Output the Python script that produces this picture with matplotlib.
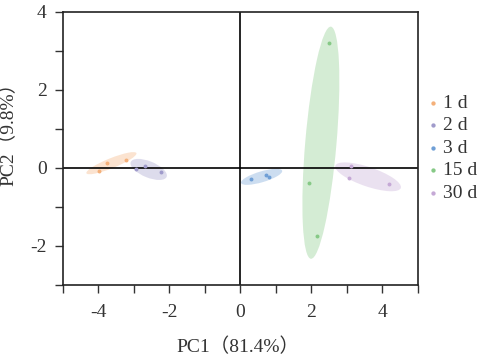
import matplotlib
matplotlib.use("Agg")
import matplotlib.pyplot as plt
from matplotlib.patches import Ellipse
from matplotlib.ticker import MultipleLocator
import numpy as np

plt.rcParams['font.family'] = ['Liberation Serif', 'Noto Sans CJK SC', 'DejaVu Sans']
plt.rcParams['axes.unicode_minus'] = False

groups = ["1 d", "2 d", "3 d", "15 d", "30 d"]
colors = ["#F4B07A", "#A09BCB", "#6F9FD6", "#86C986", "#C5A9D6"]

pc1 = {
    "1 d": [-3.97, -3.76, -3.22],
    "2 d": [-2.94, -2.68, -2.23],
    "3 d": [0.30, 0.72, 0.82],
    "15 d": [2.49, 1.94, 2.16],
    "30 d": [3.12, 3.07, 4.18],
}
pc2 = {
    "1 d": [-0.09, 0.12, 0.20],
    "2 d": [-0.03, 0.05, -0.11],
    "3 d": [-0.29, -0.18, -0.24],
    "15 d": [3.21, -0.39, -1.74],
    "30 d": [0.05, -0.26, -0.42],
}

# confidence ellipse estimates: center x, center y, semi-major, semi-minor, angle (deg)
ell_cx = [-3.63, -2.58, 0.60, 2.27, 3.60]
ell_cy = [0.12, -0.04, -0.23, 0.645, -0.23]
ell_a = [0.75, 0.54, 0.60, 2.99, 0.965]
ell_b = [0.13, 0.21, 0.14, 0.44, 0.25]
ell_ang = [20, -20, 15, 84.6, -17]

xlabel = "PC1（81.4%）"
ylabel = "PC2（9.8%）"

fig = plt.figure(figsize=(4.83, 3.61), dpi=100)
ax = fig.add_axes([0.130, 0.211, 0.735, 0.756])

ax.set_xlim(-5, 5)
ax.set_ylim(-3, 4)

for i, g in enumerate(groups):
    e = Ellipse((ell_cx[i], ell_cy[i]), 2 * ell_a[i], 2 * ell_b[i], angle=ell_ang[i],
                facecolor=colors[i], edgecolor='none', alpha=0.35, zorder=1)
    ax.add_patch(e)
    ax.scatter(pc1[g], pc2[g], s=8, color=colors[i], zorder=3, label=g, linewidths=0)

ax.axhline(0, color='black', lw=1.2, zorder=2)
ax.axvline(0, color='black', lw=1.2, zorder=2)

ax.xaxis.set_major_locator(MultipleLocator(2))
ax.xaxis.set_minor_locator(MultipleLocator(1))
ax.yaxis.set_major_locator(MultipleLocator(2))
ax.yaxis.set_minor_locator(MultipleLocator(1))
ax.tick_params(which='both', direction='out', length=5.5, width=1.0, labelsize=14,
               colors='#333333')
ax.tick_params(axis='x', which='both', pad=8)
ax.tick_params(axis='y', which='both', pad=6)
for s in ax.spines.values():
    s.set_linewidth(1.2)
    s.set_color('#222222')

ax.set_xlabel(xlabel, fontsize=14, color='#333333')
ax.set_ylabel(ylabel, fontsize=14, color='#333333')
ax.xaxis.set_label_coords(0.493, -0.194)
ax.yaxis.set_label_coords(-0.127, 0.568)

leg = fig.legend(loc='center left', bbox_to_anchor=(0.860, 0.59), frameon=False,
                 fontsize=14, handletextpad=0.0, handlelength=1.0, labelspacing=0.25,
                 markerscale=1.1, borderaxespad=0)
for t in leg.get_texts():
    t.set_color('#333333')

fig.savefig("out.png", dpi=100)
